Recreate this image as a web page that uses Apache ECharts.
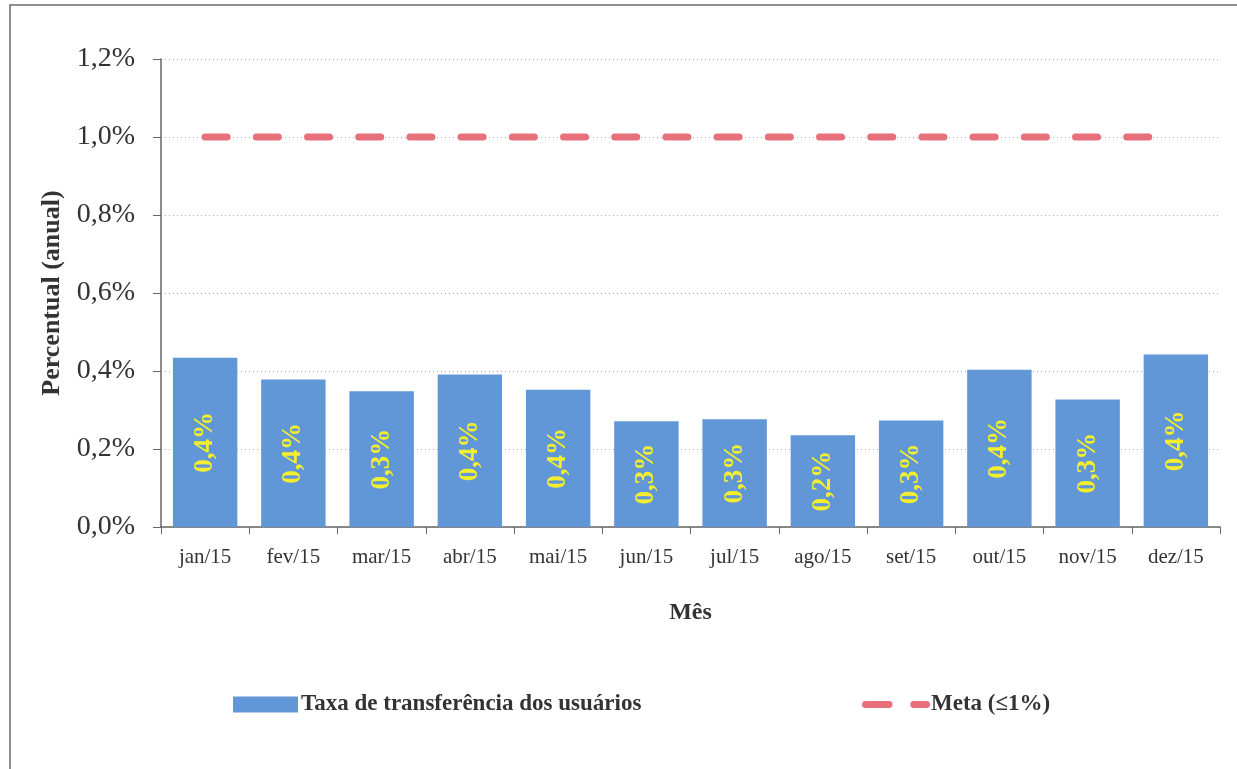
<!DOCTYPE html>
<html>
<head>
<meta charset="utf-8">
<script src="https://cdn.jsdelivr.net/npm/echarts@6/dist/echarts.min.js"></script>
<style>
html, body { margin: 0; padding: 0; background: #fff; }
#chart { width: 1237px; height: 769px; }
</style>
</head>
<body>
<div id="chart"></div>
<script>
// months on the x axis
var meses = ['jan/15', 'fev/15', 'mar/15', 'abr/15', 'mai/15', 'jun/15', 'jul/15', 'ago/15', 'set/15', 'out/15', 'nov/15', 'dez/15'];
// monthly transfer rate, in percent
var taxa = [0.434, 0.378, 0.348, 0.391, 0.352, 0.271, 0.276, 0.235, 0.273, 0.403, 0.327, 0.442];
// labels as printed on the bars
var rotulos = ['0,4%', '0,4%', '0,3%', '0,4%', '0,4%', '0,3%', '0,3%', '0,2%', '0,3%', '0,4%', '0,3%', '0,4%'];
// target line
var meta = [1.0, 1.0, 1.0, 1.0, 1.0, 1.0, 1.0, 1.0, 1.0, 1.0, 1.0, 1.0];

var serif = '"Liberation Serif", "DejaVu Serif", serif';
var chart = echarts.init(document.getElementById('chart'));

var option = {
    animation: false,
    graphic: [{
        type: 'rect',
        shape: { x: 10, y: 5, width: 1400, height: 900 },
        style: { fill: 'none', stroke: '#6a6a6a', lineWidth: 1.5 },
        silent: true
    }],
    grid: { left: 161, right: 17, top: 59, bottom: 242 },
    legend: [{
        left: 228, top: 688,
        itemWidth: 65, itemHeight: 16, itemGap: 4,
        data: [{ name: 'Taxa de transferência dos usuários', icon: 'rect' }],
        textStyle: { fontFamily: serif, fontSize: 23, fontWeight: 'bold', color: '#333', padding: [0, 0, 0, -2] }
    }, {
        left: 857, top: 688,
        itemWidth: 68, itemHeight: 7,
        data: [{ name: 'Meta (≤1%)', icon: 'path://M3,0 h24 a3.5,3.5 0 0 1 0,7 h-24 a3.5,3.5 0 0 1 0,-7z M52,0 h13 a3.5,3.5 0 0 1 0,7 h-13 a3.5,3.5 0 0 1 0,-7z' }],
        textStyle: { fontFamily: serif, fontSize: 23, fontWeight: 'bold', color: '#333', padding: [0, 0, 0, -4] }
    }],
    xAxis: {
        type: 'category',
        data: meses,
        name: 'Mês',
        nameLocation: 'middle',
        nameGap: 74,
        nameTextStyle: { fontFamily: serif, fontSize: 24, fontWeight: 'bold', color: '#333' },
        axisLine: { lineStyle: { color: '#666', width: 1.5 } },
        axisTick: { show: true, length: 7, lineStyle: { color: '#666' } },
        axisLabel: { fontFamily: serif, fontSize: 21, color: '#333', margin: 20 }
    },
    yAxis: {
        type: 'value',
        min: 0, max: 1.2, interval: 0.2,
        name: 'Percentual (anual)',
        nameLocation: 'middle',
        nameGap: 93,
        nameTextStyle: { fontFamily: serif, fontSize: 26, fontWeight: 'bold', color: '#333' },
        axisLine: { show: true, lineStyle: { color: '#666', width: 1.5 } },
        axisTick: { show: true, length: 8, lineStyle: { color: '#666' } },
        axisLabel: {
            fontFamily: serif, fontSize: 28, color: '#333', margin: 26,
            formatter: function (v) { return v.toFixed(1).replace('.', ',') + '%'; }
        },
        splitLine: { show: true, lineStyle: { color: '#aaa', type: [1, 3], width: 1 } }
    },
    series: [{
        name: 'Taxa de transferência dos usuários',
        type: 'bar',
        data: taxa,
        barCategoryGap: '27%',
        itemStyle: { color: '#6196d7' },
        label: {
            show: true,
            position: 'inside',
            rotate: 90,
            fontFamily: serif, fontSize: 27, fontWeight: 'bold',
            color: '#f3ee2e',
            formatter: function (p) { return rotulos[p.dataIndex]; }
        }
    }, {
        name: 'Meta (≤1%)',
        type: 'line',
        data: meta,
        symbol: 'none',
        lineStyle: { color: '#e8707a', width: 7, type: [22, 29.2], cap: 'round' },
        itemStyle: { color: '#e8707a' }
    }]
};
chart.setOption(option);
</script>
</body>
</html>
